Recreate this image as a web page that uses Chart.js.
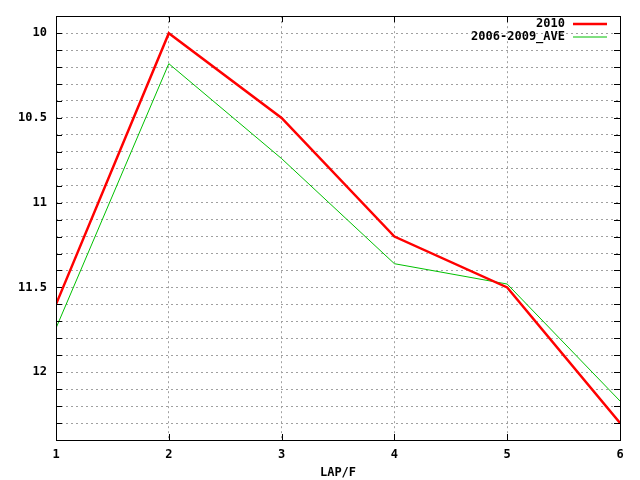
<!DOCTYPE html>
<html>
<head>
<meta charset="utf-8">
<script src="https://cdn.jsdelivr.net/npm/chart.js@4.4.1/dist/chart.umd.min.js"></script>
<style>
  html, body { margin: 0; padding: 0; background: #fff; }
  #wrap { width: 640px; height: 480px; }
</style>
</head>
<body>
<div id="wrap"><canvas id="lapChart" width="640" height="480"></canvas></div>
<script>
var laps = [1, 2, 3, 4, 5, 6];
var time2010 = [11.6, 10.0, 10.5, 11.2, 11.5, 12.3];
var timeAve = [11.74, 10.18, 10.74, 11.36, 11.48, 12.17];
var yMajor = [10, 10.5, 11, 11.5, 12];

var FONT = { family: "'DejaVu Sans Mono', monospace", size: 12, weight: 'bold' };

function toPoints(xs, ys) {
  return xs.map(function (x, i) { return { x: x, y: ys[i] }; });
}

// frame, inward tick marks and legend, gnuplot style
var gnuFrame = {
  id: 'gnuFrame',
  afterDatasetsDraw: function (chart) {
    var ctx = chart.ctx, a = chart.chartArea;
    var xs = chart.scales.x, ys = chart.scales.y;
    ctx.save();
    ctx.strokeStyle = '#000';
    ctx.lineWidth = 1;
    ctx.setLineDash([]);
    ctx.beginPath();
    ys.ticks.forEach(function (t) {
      var py = Math.round(ys.getPixelForValue(t.value)) + 0.5;
      ctx.moveTo(a.left, py); ctx.lineTo(a.left + 6, py);
      ctx.moveTo(a.right, py); ctx.lineTo(a.right - 6, py);
    });
    xs.ticks.forEach(function (t) {
      var px = Math.round(xs.getPixelForValue(t.value)) + 0.5;
      ctx.moveTo(px, a.bottom); ctx.lineTo(px, a.bottom - 6);
      ctx.moveTo(px, a.top); ctx.lineTo(px, a.top + 6);
    });
    ctx.stroke();
    ctx.strokeRect(Math.round(a.left) + 0.5, Math.round(a.top) + 0.5,
      Math.round(a.right - a.left), Math.round(a.bottom - a.top));

    // legend
    ctx.font = FONT.weight + ' ' + FONT.size + 'px ' + FONT.family;
    ctx.textAlign = 'right';
    ctx.textBaseline = 'middle';
    ctx.fillStyle = '#000';
    chart.data.datasets.forEach(function (ds, i) {
      var y = 24 + i * 13;
      ctx.fillText(ds.label, 565, y);
      ctx.strokeStyle = ds.borderColor;
      ctx.lineWidth = ds.borderWidth;
      ctx.beginPath();
      ctx.moveTo(573, y); ctx.lineTo(607, y);
      ctx.stroke();
    });
    ctx.restore();
  }
};

new Chart(document.getElementById('lapChart'), {
  type: 'line',
  data: {
    datasets: [
      {
        label: '2010',
        data: toPoints(laps, time2010),
        borderColor: '#ff0000',
        borderWidth: 2.5,
        pointRadius: 0,
        tension: 0,
        fill: false
      },
      {
        label: '2006-2009_AVE',
        data: toPoints(laps, timeAve),
        borderColor: '#00c000',
        borderWidth: 1,
        pointRadius: 0,
        tension: 0,
        fill: false
      }
    ]
  },
  options: {
    responsive: false,
    animation: false,
    layout: { padding: { top: 13, right: 20, left: 0, bottom: 0 } },
    plugins: {
      legend: { display: false },
      tooltip: { enabled: false }
    },
    scales: {
      x: {
        type: 'linear',
        min: 1,
        max: 6,
        ticks: { stepSize: 1, color: '#000', font: FONT, padding: 8, maxRotation: 0 },
        grid: { color: '#a0a0a0', drawTicks: false, lineWidth: 1 },
        border: { display: false, dash: [2, 3] },
        title: { display: true, text: 'LAP/F', color: '#000', font: FONT, padding: { top: 5, bottom: 0 } },
        afterFit: function (s) { s.height = 40; }
      },
      y: {
        type: 'linear',
        reverse: true,
        min: 9.9,
        max: 12.4,
        ticks: {
          stepSize: 0.1,
          color: '#000',
          font: FONT,
          padding: 9,
          autoSkip: false,
          callback: function (v) {
            var r = Math.round(v * 10) / 10;
            return yMajor.indexOf(r) >= 0 ? String(r) : '';
          }
        },
        grid: { color: '#a0a0a0', drawTicks: false, lineWidth: 1 },
        border: { display: false, dash: [2, 3] },
        afterFit: function (s) { s.width = 56; }
      }
    }
  },
  plugins: [gnuFrame]
});
</script>
</body>
</html>
